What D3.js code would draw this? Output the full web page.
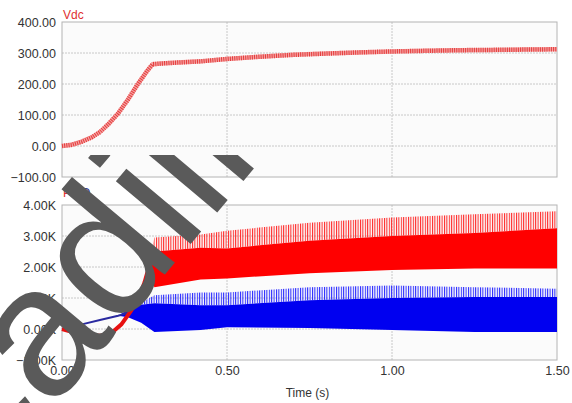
<!DOCTYPE html>
<html>
<head>
<meta charset="utf-8">
<script src="https://cdn.jsdelivr.net/npm/d3@7"></script>
<style>
body { margin: 0; background: #fff; }
svg text { font-family: "Liberation Sans", Arial, sans-serif; }
</style>
</head>
<body>
<script>
// tick values
var timeTicks = [0, 0.5, 1.0, 1.5],
    vdcTicks = [-100, 0, 100, 200, 300, 400],
    pqTicks = [-1000, 0, 1000, 2000, 3000, 4000];

// Vdc
var vdcTime  = [0, 0.03, 0.06, 0.09, 0.115, 0.14, 0.17, 0.2, 0.23, 0.26, 0.275, 0.3, 0.35, 0.42, 0.5, 0.6, 0.7, 0.8, 0.9, 1.0, 1.1, 1.2, 1.3, 1.4, 1.5],
    vdcValue = [0, 4, 14, 28, 45, 70, 105, 150, 200, 245, 264, 266, 269, 273, 281, 288, 294, 298, 302, 305, 307, 309, 310, 311, 312];

// P and Q before the ripple starts
var pTime  = [0, 0.04, 0.08, 0.115, 0.15, 0.18, 0.21, 0.236, 0.25, 0.258, 0.267],
    pValue = [0, -120, -200, -220, -130, 150, 600, 1100, 1500, 1800, 2000];
var qTime  = [0, 0.06, 0.115, 0.17, 0.2],
    qValue = [0, 150, 290, 430, 520];

// ripple envelopes: low / high of the dense band, top of the spikes
var pBandTime = [0.262, 0.28, 0.42, 0.5, 0.75, 1.0, 1.25, 1.5],
    pBandLow  = [1800, 1350, 1600, 1630, 1800, 1900, 1950, 1950],
    pBandHigh = [2100, 2500, 2620, 2600, 2850, 3000, 3100, 3250],
    pSpike    = [2100, 2950, 3050, 3170, 3430, 3600, 3700, 3800];
var qBandTime = [0.17, 0.2, 0.24, 0.28, 0.42, 0.5, 0.75, 1.0, 1.25, 1.5],
    qBandLow  = [430, 380, 200, -100, -30, 60, 30, -30, -100, -100],
    qBandHigh = [430, 620, 780, 830, 770, 770, 930, 1000, 1030, 1030],
    qSpike    = [430, 650, 850, 1090, 1180, 1180, 1350, 1400, 1350, 1300];

var W = 572, H = 403,
    left = 62, right = 557,
    top1 = 22, bottom1 = 177,
    top2 = 205, bottom2 = 360;

var svg = d3.select("body").append("svg")
    .attr("width", W)
    .attr("height", H);

svg.append("rect").attr("width", W).attr("height", H).attr("fill", "#fff");

// patterns for the spiky fringe
var defs = svg.append("defs");
function spikePattern(id, color)
{
    var p = defs.append("pattern")
        .attr("id", id)
        .attr("width", 2.4).attr("height", 10)
        .attr("patternUnits", "userSpaceOnUse");
    p.append("rect").attr("width", 1).attr("height", 10).attr("fill", color);
}
spikePattern("pSpikes", "#ff2020");
spikePattern("qSpikes", "#2020ff");

var x = d3.scaleLinear().domain([0, 1.5]).range([left, right]);
var y1 = d3.scaleLinear().domain([-100, 400]).range([bottom1, top1]);
var y2 = d3.scaleLinear().domain([-1000, 4000]).range([bottom2, top2]);

// draw a panel frame with grid
function panel(y, ticks, fmt, top, bottom)
{
    svg.append("rect")
        .attr("x", left).attr("y", top)
        .attr("width", right - left).attr("height", bottom - top)
        .attr("fill", "#fbfbfb");

    svg.append("g").selectAll("line")
        .data(ticks.slice(1, -1))
        .enter().append("line")
            .attr("x1", left).attr("x2", right)
            .attr("y1", function(d) { return y(d); })
            .attr("y2", function(d) { return y(d); })
            .attr("stroke", "#c8c8c8")
            .attr("stroke-dasharray", "2,1");

    svg.append("g").selectAll("line")
        .data(timeTicks.slice(1, -1))
        .enter().append("line")
            .attr("x1", function(d) { return x(d); })
            .attr("x2", function(d) { return x(d); })
            .attr("y1", top).attr("y2", bottom)
            .attr("stroke", "#c8c8c8")
            .attr("stroke-dasharray", "2,1");

    svg.append("rect")
        .attr("x", left).attr("y", top)
        .attr("width", right - left).attr("height", bottom - top)
        .attr("fill", "none")
        .attr("stroke", "#b4b4b4");

    var axis = svg.append("g")
        .attr("transform", "translate(" + (left - 3) + ",0)")
        .call(d3.axisLeft(y).tickValues(ticks).tickSize(0).tickFormat(fmt));
    axis.select(".domain").remove();
    axis.selectAll("text")
        .attr("font-size", "12.5px")
        .attr("fill", "#333")
        .attr("font-family", "Liberation Sans, Arial, sans-serif");
}

panel(y1, vdcTicks, d3.format(".2f"), top1, bottom1);
panel(y2, pqTicks, function(d) { return d3.format(".2f")(d / 1000) + "K"; }, top2, bottom2);

// x axis
var xAxis = svg.append("g")
    .attr("transform", "translate(0," + (bottom2 + 3) + ")")
    .call(d3.axisBottom(x).tickValues(timeTicks).tickSize(0).tickFormat(d3.format(".2f")));
xAxis.select(".domain").remove();
xAxis.selectAll("text")
    .attr("font-size", "12.5px")
    .attr("fill", "#333")
    .attr("font-family", "Liberation Sans, Arial, sans-serif");

svg.append("text")
    .attr("x", (left + right) / 2 - 2).attr("y", 397)
    .attr("text-anchor", "middle")
    .attr("font-size", "12px")
    .attr("fill", "#333")
    .text("Time (s)");

// panel labels
svg.append("text").attr("x", 63).attr("y", 19)
    .attr("font-size", "12px").attr("fill", "#e03030").text("Vdc");
svg.append("text").attr("x", 63).attr("y", 197)
    .attr("font-size", "12px").attr("fill", "#e03030").text("P");
svg.append("text").attr("x", 81).attr("y", 197)
    .attr("font-size", "12px").attr("fill", "#30308a").text("Q");

// Vdc curve with ripple
var vdcData = vdcTime.map(function(t, i) { return {t: t, v: vdcValue[i]}; });
var vdcLine = d3.line()
    .x(function(d) { return x(d.t); })
    .y(function(d) { return y1(d.v); });
svg.append("path")
    .attr("d", vdcLine(vdcData))
    .attr("fill", "none")
    .attr("stroke", "#f5a3a3")
    .attr("stroke-width", 4.5);
svg.append("path")
    .attr("d", vdcLine(vdcData))
    .attr("fill", "none")
    .attr("stroke", "#e43c3c")
    .attr("stroke-width", 4.5)
    .attr("stroke-dasharray", "1,1.2");

// P and Q
var line2 = d3.line()
    .x(function(d) { return x(d.t); })
    .y(function(d) { return y2(d.v); });
function band(time, low, high)
{
    var data = time.map(function(t, i) { return {t: t, lo: low[i], hi: high[i]}; });
    return d3.area()
        .x(function(d) { return x(d.t); })
        .y0(function(d) { return y2(d.lo); })
        .y1(function(d) { return y2(d.hi); })(data);
}

// Q
svg.append("path")
    .attr("d", band(qBandTime, qBandHigh, qSpike))
    .attr("fill", "url(#qSpikes)");
svg.append("path")
    .attr("d", band(qBandTime, qBandLow, qBandHigh))
    .attr("fill", "#0000f0");
svg.append("path")
    .attr("d", line2(qTime.map(function(t, i) { return {t: t, v: qValue[i]}; })))
    .attr("fill", "none")
    .attr("stroke", "#2a2aa0")
    .attr("stroke-width", 2);

// P
svg.append("path")
    .attr("d", band(pBandTime, pBandHigh, pSpike))
    .attr("fill", "url(#pSpikes)");
svg.append("path")
    .attr("d", band(pBandTime, pBandLow, pBandHigh))
    .attr("fill", "#ff0000");
svg.append("path")
    .attr("d", line2(pTime.map(function(t, i) { return {t: t, v: pValue[i]}; })))
    .attr("fill", "none")
    .attr("stroke", "#e81010")
    .attr("stroke-width", 4);

// watermark over the chart
defs.append("clipPath").attr("id", "wmClip")
    .append("rect").attr("x", 0).attr("y", 155).attr("width", 270).attr("height", 260);
svg.append("g")
    .attr("clip-path", "url(#wmClip)")
  .append("text")
    .attr("transform", "translate(-9,482) rotate(-50)")
    .attr("font-size", "185px")
    .attr("fill", "#5a5a5a")
    .attr("font-family", "Liberation Sans, Arial, sans-serif")
    .text("cadili");
</script>
</body>
</html>
